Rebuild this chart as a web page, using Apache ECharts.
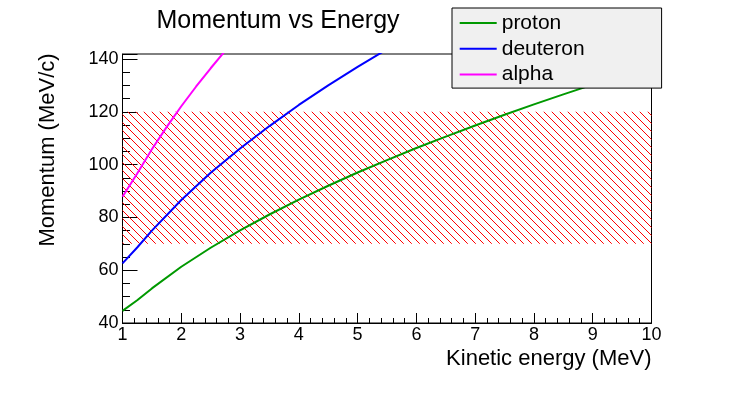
<!DOCTYPE html>
<html>
<head>
<meta charset="utf-8">
<script src="https://cdn.jsdelivr.net/npm/echarts@6/dist/echarts.min.js"></script>
<style>
html,body{margin:0;padding:0;background:#fff;}
#chart{width:756px;height:393px;}
</style>
</head>
<body>
<div id="chart"></div>
<script>
// ---- data ----
const protonEnergy = [1, 1.25, 1.5, 2, 2.5, 3, 3.5, 4, 4.5, 5, 5.5, 6, 6.5, 7, 7.5, 8, 8.5, 9, 9.5, 10];
const protonMomentum = [44.6, 48.6, 53.1, 61.3, 68.5, 75.1, 81.1, 86.7, 92.0, 97.0, 101.7, 106.3, 110.6, 114.8, 118.9, 122.8, 126.6, 130.3, 133.9, 137.4];
const deuteronEnergy = [1, 1.25, 1.5, 2, 2.5, 3, 3.5, 4, 4.5, 5, 5.5, 6];
const deuteronMomentum = [62.6, 68.6, 75.0, 86.6, 96.9, 106.1, 114.6, 122.6, 130.0, 137.0, 143.7, 150.1];
const alphaEnergy = [1, 1.25, 1.5, 1.75, 2, 2.25, 2.5, 2.75, 3];
const alphaMomentum = [87.8, 96.6, 105.8, 114.2, 122.1, 129.5, 136.5, 143.2, 149.6];
const bandRange = [70, 120];           // hatched momentum band
const xRange = [1, 10];
const yRange = [40, 141.9];
const seriesNames = ['proton', 'deuteron', 'alpha'];
const titleText = 'Momentum vs Energy';
const xTitle = 'Kinetic energy (MeV)';
const yTitle = 'Momentum (MeV/c)';

const FONT = '"Liberation Sans", Arial, Helvetica, sans-serif';

// hatch pattern (\\\ red lines)
const pat = document.createElement('canvas');
pat.width = 8; pat.height = 8;
const pctx = pat.getContext('2d');
pctx.fillStyle = '#ff0000';
for (let i = 0; i < 8; i++) pctx.fillRect(i, i, 1, 1);

const zip = (xs, ys) => xs.map((x, i) => [x, ys[i]]);

const chart = echarts.init(document.getElementById('chart'), null, {renderer: 'canvas'});
chart.setOption({
  animation: false,
  backgroundColor: '#ffffff',
  title: {
    text: titleText,
    left: 273, top: 4, textAlign: 'center',
    textStyle: {fontFamily: FONT, fontSize: 25, fontWeight: 'normal', color: '#000'}
  },
  legend: {
    orient: 'vertical',
    left: 452, top: 8,
    z: 20,
    padding: [4.5, 77, 3, 7.7],
    icon: 'rect',
    itemWidth: 37, itemHeight: 2, itemGap: 4.8, itemTextGap: 7,
    itemStyle: {borderWidth: 0},
    backgroundColor: '#f0f0f0',
    borderColor: '#000', borderWidth: 1, borderRadius: 0,
    textStyle: {fontFamily: FONT, fontSize: 21, lineHeight: 21, color: '#000'},
    data: seriesNames
  },
  grid: {
    left: 122.5, right: 104.5, top: 54, bottom: 70,
    show: true, borderColor: '#000', borderWidth: 1, containLabel: false
  },
  xAxis: {
    type: 'value', min: xRange[0], max: xRange[1], interval: 1,
    axisLine: {show: true, lineStyle: {color: '#000', width: 1}},
    axisTick: {show: true, inside: true, length: 10, lineStyle: {color: '#000'}},
    minorTick: {show: true, splitNumber: 5, length: 5, lineStyle: {color: '#000'}},
    splitLine: {show: false},
    axisLabel: {fontFamily: FONT, fontSize: 18, color: '#000', margin: 3}
  },
  yAxis: {
    type: 'value', min: yRange[0], max: yRange[1], interval: 20,
    axisLine: {show: true, lineStyle: {color: '#000', width: 1}},
    axisTick: {show: true, inside: true, length: 15, lineStyle: {color: '#000'}},
    minorTick: {show: true, splitNumber: 4, length: 7.5, lineStyle: {color: '#000'}},
    splitLine: {show: false},
    axisLabel: {fontFamily: FONT, fontSize: 18, color: '#000', margin: 4,
      formatter: v => (Math.abs(v % 20) < 1e-6 ? String(v) : '')}
  },
  graphic: [
    {type: 'text', x: 651.5, y: 359, z: 10,
     style: {text: xTitle, font: '22px ' + FONT, fill: '#000', textAlign: 'right', textVerticalAlign: 'middle'}},
    {type: 'text', x: 48, y: 150, rotation: Math.PI / 2, z: 10,
     style: {text: yTitle, font: '22px ' + FONT, fill: '#000', textAlign: 'center', textVerticalAlign: 'middle'}}
  ],
  series: [
    {
      name: seriesNames[0], type: 'line', data: zip(protonEnergy, protonMomentum),
      showSymbol: false, symbol: 'none', clip: true,
      lineStyle: {color: '#009900', width: 2}, itemStyle: {color: '#009900'},
      markArea: {
        silent: true,
        itemStyle: {color: {image: pat, repeat: 'repeat'}},
        data: [[{xAxis: xRange[0], yAxis: bandRange[0]}, {xAxis: xRange[1], yAxis: bandRange[1]}]]
      }
    },
    {
      name: seriesNames[1], type: 'line', data: zip(deuteronEnergy, deuteronMomentum),
      showSymbol: false, symbol: 'none', clip: true,
      lineStyle: {color: '#0000ff', width: 2}, itemStyle: {color: '#0000ff'}
    },
    {
      name: seriesNames[2], type: 'line', data: zip(alphaEnergy, alphaMomentum),
      showSymbol: false, symbol: 'none', clip: true,
      lineStyle: {color: '#ff00ff', width: 2}, itemStyle: {color: '#ff00ff'}
    }
  ]
});
</script>
</body>
</html>
